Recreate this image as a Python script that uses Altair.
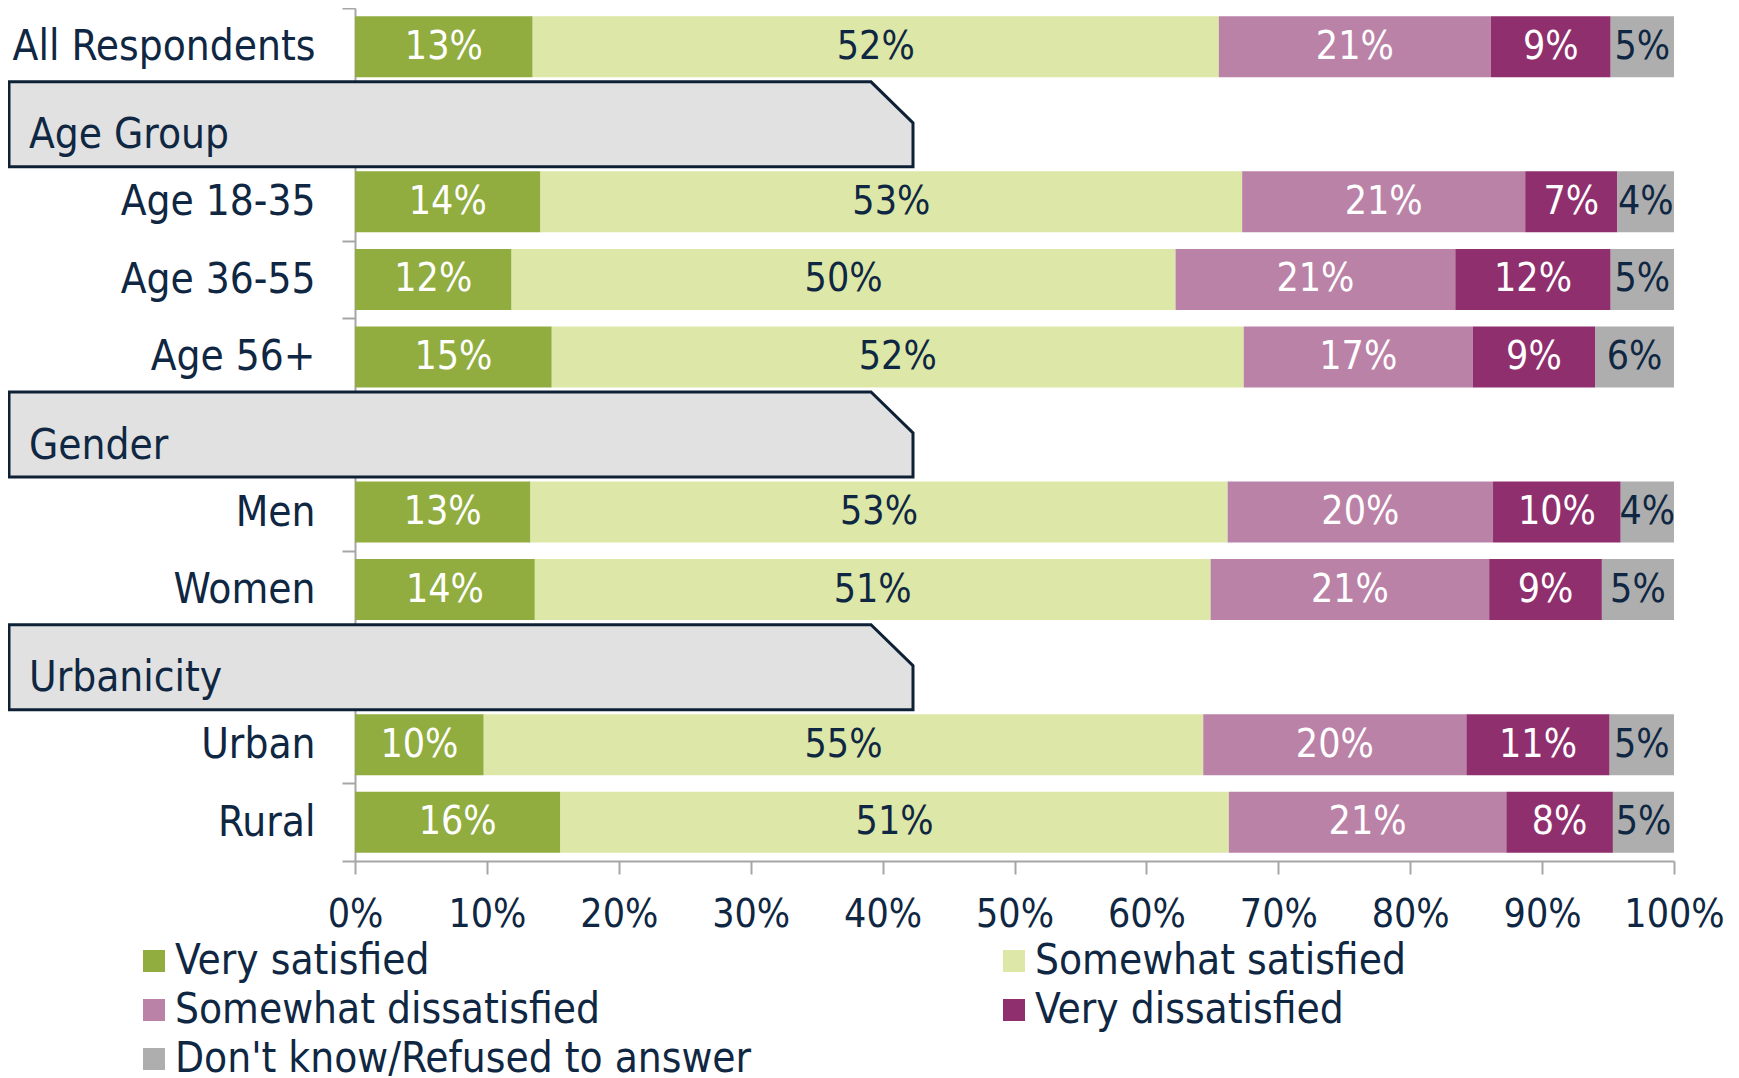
import altair as alt
import pandas as pd

# ---------------- data ----------------
groups = ["All Respondents", "Age Group", "Age 18-35", "Age 36-55", "Age 56+",
          "Gender", "Men", "Women", "Urbanicity", "Urban", "Rural"]
headers = ["Age Group", "Gender", "Urbanicity"]
rows = ["All Respondents", "Age 18-35", "Age 36-55", "Age 56+",
        "Men", "Women", "Urban", "Rural"]
categories = ["Very satisfied", "Somewhat satisfied", "Somewhat dissatisfied",
              "Very dissatisfied", "Don't know/Refused to answer"]

very_satisfied = [13.47, 14.06, 11.87, 14.90, 13.30, 13.64, 9.76, 15.57]
somewhat_satisfied = [52.02, 53.20, 50.34, 52.40, 52.86, 51.26, 54.55, 50.67]
somewhat_dissatisfied = [20.62, 21.46, 21.21, 17.34, 20.12, 21.13, 19.95, 21.04]
very_dissatisfied = [9.09, 6.99, 11.78, 9.26, 9.68, 8.55, 10.86, 8.08]
dont_know = [4.80, 4.29, 4.80, 5.98, 4.04, 5.47, 4.88, 4.63]

series = [very_satisfied, somewhat_satisfied, somewhat_dissatisfied,
          very_dissatisfied, dont_know]

# ---------------- styles ----------------
colors = ["#91AD3F", "#DDE7A7", "#BB82A8", "#902F6E", "#AEAEAF"]
NAVY = "#0F2742"
GRAY = "#A6A6A6"
FONT = "DejaVu Sans Condensed, Liberation Sans, sans-serif"
FS = 42      # row labels, headers, legend
FS_NUM = 39  # percentages

records = []
for ci, (cat, vals) in enumerate(zip(categories, series)):
    for g, v in zip(rows, vals):
        records.append({"group": g, "category": cat, "order": ci,
                        "value": v, "label": f"{int(v + 0.5)}%"})
df = pd.DataFrame(records)
hdf = pd.DataFrame({"group": headers})

y_enc = alt.Y(
    "group:N", sort=groups,
    scale=alt.Scale(domain=groups, paddingInner=0, paddingOuter=0),
    axis=alt.Axis(
        title=None, tickBand="extent", tickSize=13, tickWidth=2, tickColor=GRAY,
        domainColor=GRAY, domainWidth=2, labelPadding=27, labelFontSize=FS,
        labelFont=FONT, labelColor=NAVY, labelLimit=0,
        labelExpr="indexof(['Age Group','Gender','Urbanicity'], datum.value) >= 0 ? '' : datum.value",
    ),
)

x_scale = alt.Scale(domain=[0, 1], nice=False)
x_axis = alt.Axis(
    title=None, values=[i / 10 for i in range(11)], format=".0%",
    tickSize=13, tickWidth=2, tickColor=GRAY, domainColor=GRAY, domainWidth=2,
    labelPadding=21, labelFontSize=FS_NUM, labelFont=FONT, labelColor=NAVY,
    grid=False, labelFlush=False, labelOverlap=False,
)

base = alt.Chart(df).transform_stack(
    stack="value", groupby=["group"], as_=["v0", "v1"], offset="normalize",
    sort=[alt.SortField("order", order="ascending")],
)

bars = base.mark_bar(size=61).encode(
    x=alt.X("v0:Q", scale=x_scale, axis=x_axis),
    x2="v1:Q",
    y=y_enc,
    color=alt.Color(
        "category:N",
        scale=alt.Scale(domain=categories, range=colors),
        legend=alt.Legend(
            title=None, orient="none", legendX=-222, legendY=932, columns=2,
            direction="horizontal", columnPadding=241, rowPadding=7,
            symbolType="square", symbolSize=484, symbolStrokeWidth=0,
            labelFontSize=FS, labelFont=FONT, labelColor=NAVY, labelOffset=0,
            labelLimit=0,
        ),
    ),
)

labels = base.transform_calculate(mid="(datum.v0 + datum.v1) / 2").mark_text(
    fontSize=FS_NUM, font=FONT, baseline="middle", align="center"
).encode(
    x=alt.X("mid:Q", scale=x_scale),
    y=alt.Y("group:N", sort=groups),
    text="label:N",
    color=alt.condition(
        alt.FieldOneOfPredicate(field="category",
                                oneOf=["Somewhat satisfied", "Don't know/Refused to answer"]),
        alt.value(NAVY), alt.value("white"),
    ),
)

# header box shape (pixels / 100, relative to x=0 and row centre)
box_path = "M-3.46,-0.425L5.16,-0.425L5.58,-0.015L5.58,0.425L-3.46,0.425Z"
boxes = alt.Chart(hdf).mark_point(
    shape=box_path, size=40000, filled=True, fill="#E1E1E1", stroke="#0E2036",
    strokeWidth=3, opacity=1, fillOpacity=1, strokeOpacity=1,
).encode(x=alt.datum(0), y=alt.Y("group:N", sort=groups))

head_text = alt.Chart(hdf).mark_text(
    align="left", baseline="alphabetic", dx=-326, dy=24, fontSize=FS,
    font=FONT, color=NAVY,
).encode(x=alt.datum(0), y=alt.Y("group:N", sort=groups), text="group:N")

chart = alt.layer(bars, boxes, head_text, labels).properties(
    width=1319, height=853,
    padding={"left": 347, "top": 0, "right": 56, "bottom": 217},
    autosize=alt.AutoSizeParams(type="none"),
    background="white",
).configure_view(stroke=None)

chart.save("out.html", embed_options={"renderer": "svg", "actions": False})
